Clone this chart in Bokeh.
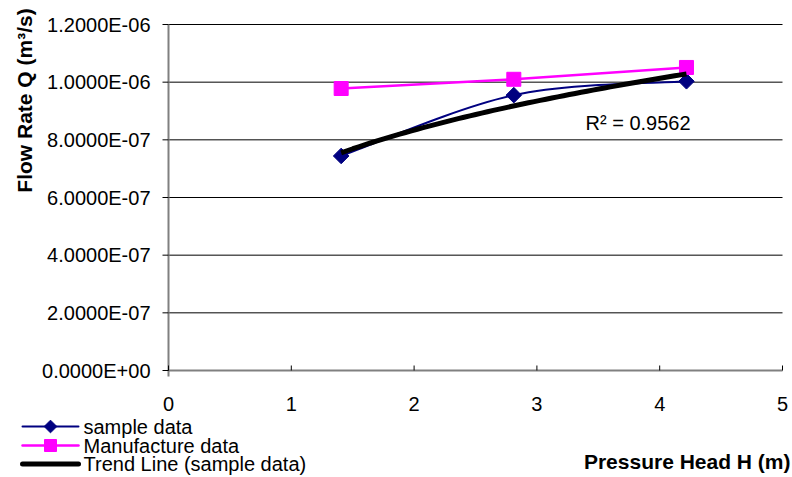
import numpy as np
from bokeh.plotting import figure
from bokeh.models import Range1d
from bokeh.core.properties import value
from bokeh.embed import file_html
from bokeh.resources import INLINE

# Pressure head H (m) and flow rate Q (m^3/s)
head = [1.406, 2.812, 4.218]
sample_q = [0.744e-6, 0.955e-6, 1.003e-6]
manufacture_q = [0.978e-6, 1.010e-6, 1.051e-6]
r_squared_text = "R\u00b2 = 0.9562"

y_ticks = [0.0, 2e-7, 4e-7, 6e-7, 8e-7, 1.0e-6, 1.2e-6]
y_tick_labels = ["0.0000E+00", "2.0000E-07", "4.0000E-07", "6.0000E-07",
                 "8.0000E-07", "1.0000E-06", "1.2000E-06"]
x_ticks = [0, 1, 2, 3, 4, 5]
x_tick_labels = ["0", "1", "2", "3", "4", "5"]
legend_labels = ["sample data", "Manufacture data", "Trend Line (sample data)"]

FONT = "Liberation Sans"
NAVY = "#000080"
MAGENTA = "#FF00FF"
AXIS_GREY = "#808080"

# Canvas geometry: the plotting frame spans the whole page, and the chart
# area (x 0..5, y 0..1.2e-6) occupies the box below, in page pixels.
W, H = 792, 477
AREA_L, AREA_R, AREA_T, AREA_B = 168, 782, 24, 370
X_MAX, Y_MAX = 5.0, 1.2e-6
XS = (AREA_R - AREA_L) / X_MAX          # px per unit of H
YS = (AREA_B - AREA_T) / Y_MAX          # px per unit of Q


def px_x(sx):
    return (sx - AREA_L) / XS


def px_y(sy):
    return (AREA_B - sy) / YS


p = figure(width=W, height=H, output_backend="svg", toolbar_location=None,
           x_range=Range1d(px_x(0), px_x(W)), y_range=Range1d(px_y(H), px_y(0)),
           x_axis_location=None, y_axis_location=None,
           min_border=0, min_border_left=0, min_border_right=0,
           min_border_top=0, min_border_bottom=0)
p.outline_line_color = None
p.grid.visible = False

txt = dict(text_font=value(FONT), text_font_size=value("20px"),
           text_color="black")

# horizontal gridlines
grid_y = y_ticks[1:]
p.segment(x0=[0] * len(grid_y), x1=[X_MAX] * len(grid_y), y0=grid_y, y1=grid_y,
          line_color="black", line_width=1)

# axes, tick marks and tick labels
p.segment(x0=[0, 0], y0=[-6 / YS, 0], x1=[0, X_MAX], y1=[Y_MAX, 0],
          line_color=AXIS_GREY, line_width=2)
p.segment(x0=[0] * len(y_ticks), x1=[-6 / XS] * len(y_ticks),
          y0=y_ticks, y1=y_ticks, line_color="black", line_width=1)
p.segment(x0=x_ticks, x1=x_ticks, y0=[0] * len(x_ticks),
          y1=[5 / YS] * len(x_ticks), line_color="black", line_width=1)
p.text(x=[0] * len(y_ticks), y=y_ticks, text=y_tick_labels, x_offset=-18,
       text_align="right", text_baseline="middle", **txt)
p.text(x=x_ticks, y=[0] * len(x_ticks), text=x_tick_labels, y_offset=33,
       text_align="center", text_baseline="middle", **txt)

# axis titles
p.text(x=[px_x(24)], y=[px_y(100)], text=["Flow Rate Q (m\u00b3/s)"],
       angle=np.pi / 2, text_align="center", text_baseline="middle",
       text_font_style="bold", text_font=value(FONT),
       text_font_size=value("21px"), text_color="black")
p.text(x=[px_x(790)], y=[px_y(461)], text=["Pressure Head H (m)"],
       text_align="right", text_baseline="middle", text_font_style="bold",
       text_font=value(FONT), text_font_size=value("21px"), text_color="black")

# sample data as a smoothed curve (cubic Bezier, Catmull-Rom controls)
hx = np.array(head)
qy = np.array(sample_q)
ex = np.concatenate([[hx[0]], hx, [hx[-1]]])
ey = np.concatenate([[qy[0]], qy, [qy[-1]]])
seg = dict(x0=[], y0=[], x1=[], y1=[], cx0=[], cy0=[], cx1=[], cy1=[])
for j in range(1, len(hx)):
    seg["x0"].append(ex[j]); seg["y0"].append(ey[j])
    seg["x1"].append(ex[j + 1]); seg["y1"].append(ey[j + 1])
    seg["cx0"].append(ex[j] + (ex[j + 1] - ex[j - 1]) / 6)
    seg["cy0"].append(ey[j] + (ey[j + 1] - ey[j - 1]) / 6)
    seg["cx1"].append(ex[j + 1] - (ex[j + 2] - ex[j]) / 6)
    seg["cy1"].append(ey[j + 1] - (ey[j + 2] - ey[j]) / 6)
p.bezier(line_color=NAVY, line_width=2, **seg)
# rhombus markers: squares turned by 45 degrees
p.scatter(head, sample_q, marker="square", angle=np.pi / 4, size=11,
          fill_color=NAVY, line_color=NAVY)

# manufacture data
p.line(head, manufacture_q, line_color=MAGENTA, line_width=2.5)
p.scatter(head, manufacture_q, marker="square", size=14,
          fill_color=MAGENTA, line_color=MAGENTA)

# power-law trend line fitted to the sample data
b, ln_a = np.polyfit(np.log(hx), np.log(qy), 1)
tx = np.linspace(hx[0], hx[-1], 60)
ty = np.exp(ln_a) * tx ** b
p.line(tx, ty, line_color="black", line_width=5)

p.text(x=[3.396], y=[0.858e-6], text=[r_squared_text], text_align="left",
       text_baseline="middle", **txt)

# legend key, drawn below the chart area
row_y = [px_y(s) for s in (426, 445, 463.5)]
key_x0, key_x1, key_mid, label_x = px_x(22), px_x(78), px_x(50), px_x(83)
p.segment(x0=[key_x0] * 3, x1=[key_x1] * 3, y0=row_y, y1=row_y,
          line_color=[NAVY, MAGENTA, "black"], line_width=[2, 2.5, 5],
          line_cap="round")
p.scatter([key_mid], [row_y[0]], marker="square", angle=np.pi / 4, size=9,
          fill_color=NAVY, line_color=NAVY)
p.scatter([key_mid], [row_y[1]], marker="square", size=12,
          fill_color=MAGENTA, line_color=MAGENTA)
p.text(x=[label_x] * 3, y=row_y, text=legend_labels, text_align="left",
       text_baseline="middle", **txt)

open("out.html", "w").write(file_html(p, INLINE))
